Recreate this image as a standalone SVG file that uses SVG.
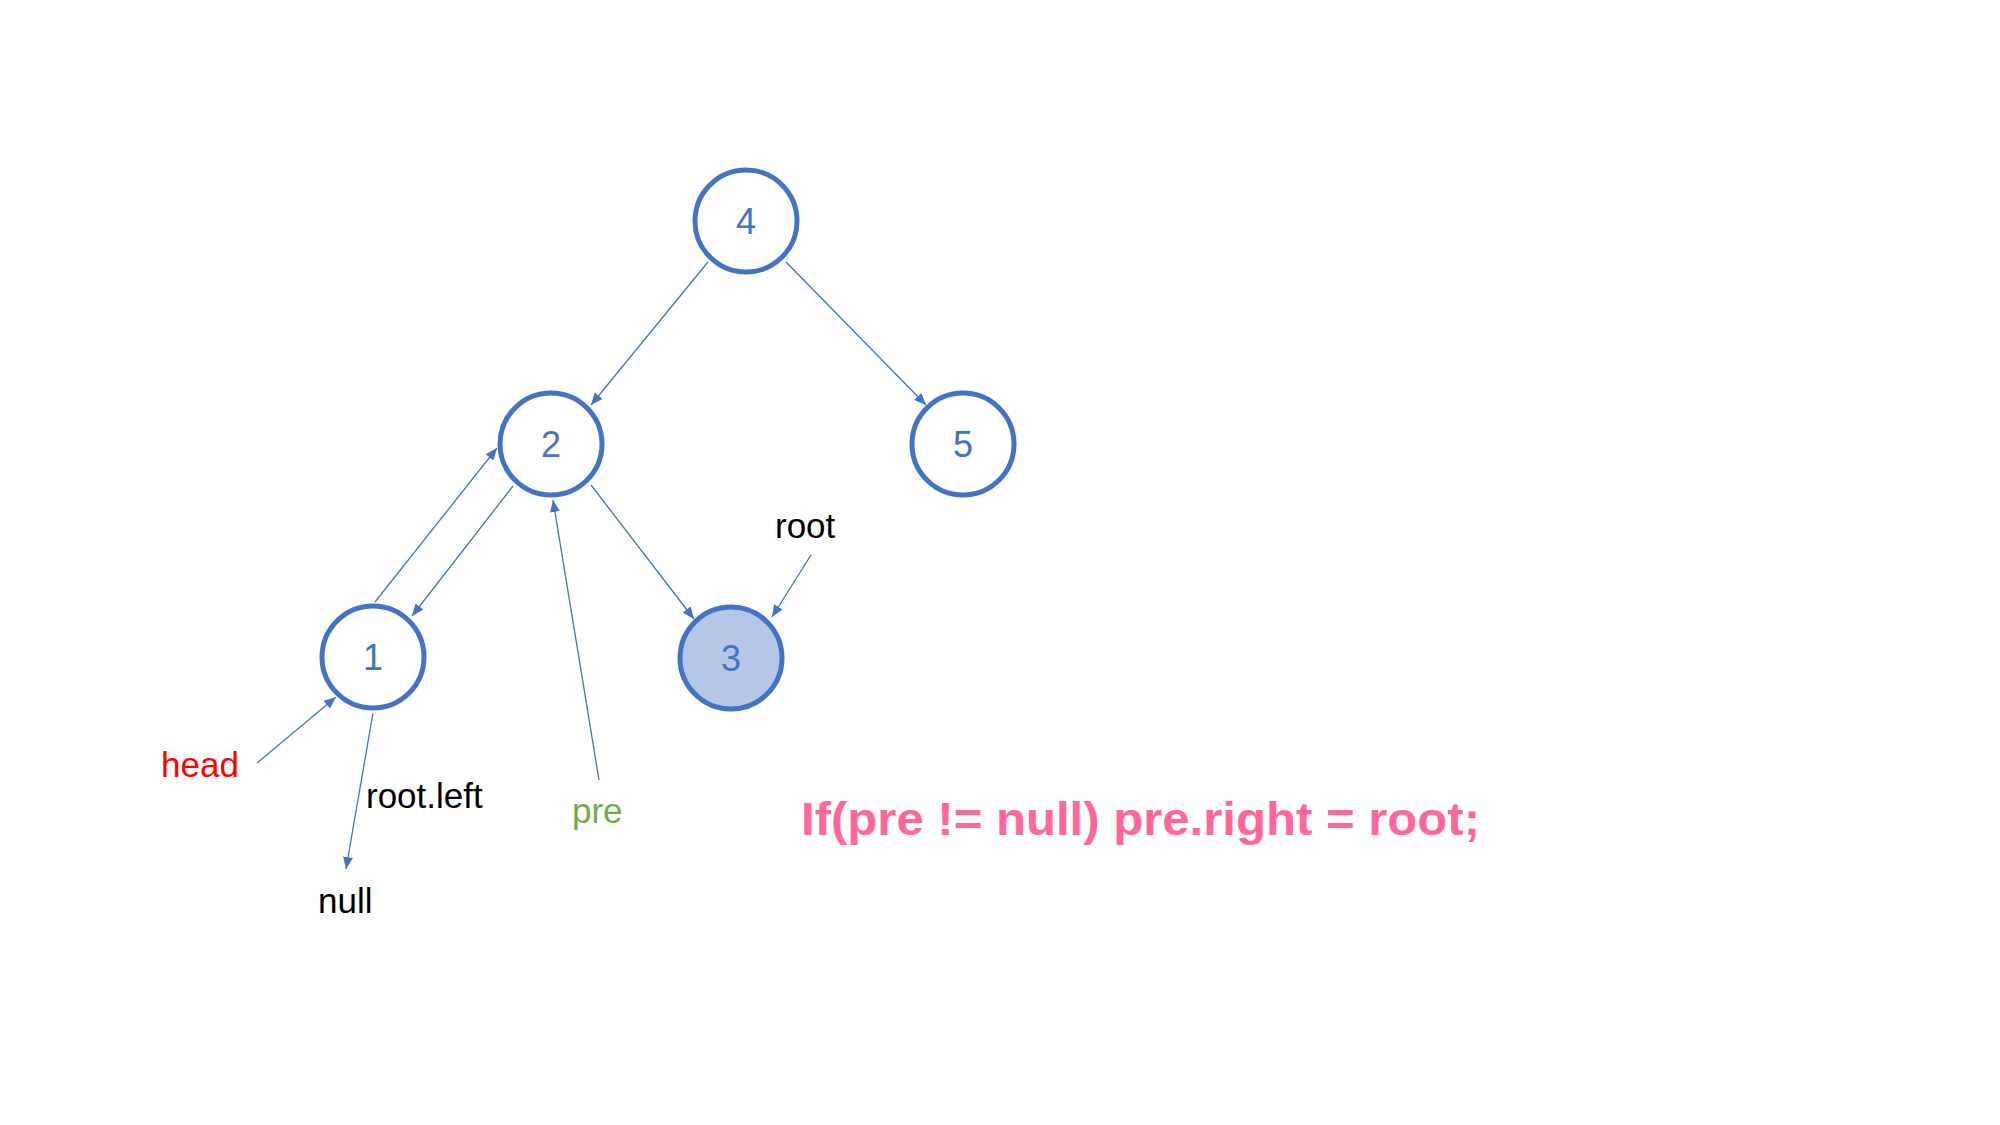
<svg xmlns="http://www.w3.org/2000/svg" width="2000" height="1125" viewBox="0 0 2000 1125">
<style>
.node{fill:#FFFFFF;stroke:#4472C4;stroke-width:5}
.sel{fill:#B4C7E7}
.num{font-family:"Liberation Sans","Noto Sans",sans-serif;font-size:36px;fill:#4472C4;text-anchor:middle}
.lbl{font-family:"Liberation Sans","Noto Sans",sans-serif;font-size:35px;fill:#000000}
.edge{stroke:#4472C4;stroke-width:1.3;fill:none;marker-end:url(#arr)}
.code{font-family:"Liberation Sans","Noto Sans",sans-serif;font-size:46px;font-weight:bold;fill:#FF6699}
</style>
<defs>
<marker id="arr" markerUnits="userSpaceOnUse" markerWidth="12" markerHeight="10" refX="12" refY="5" orient="auto">
<path d="M0,0 L12,5 L0,10 z" fill="#4472C4"/>
</marker>
</defs>
<rect width="2000" height="1125" fill="#FFFFFF"/>
<g id="connectors">
<line class="edge" x1="708" y1="262" x2="591" y2="405"/>
<line class="edge" x1="786" y1="262" x2="926" y2="405"/>
<line class="edge" x1="375" y1="602" x2="497" y2="448"/>
<line class="edge" x1="513" y1="486" x2="412" y2="616"/>
<line class="edge" x1="591" y1="485" x2="694" y2="619"/>
<line class="edge" x1="599" y1="780" x2="553" y2="500"/>
<line class="edge" x1="811" y1="555" x2="772" y2="617"/>
<line class="edge" x1="257" y1="763" x2="336" y2="697"/>
<line class="edge" x1="373" y1="713" x2="346" y2="869"/>
</g>
<g id="node4"><circle class="node" cx="746" cy="221" r="51"/><text class="num" x="746" y="234">4</text></g>
<g id="node2"><circle class="node" cx="551" cy="444" r="51"/><text class="num" x="551" y="457">2</text></g>
<g id="node5"><circle class="node" cx="963" cy="444" r="51"/><text class="num" x="963" y="457">5</text></g>
<g id="node1"><circle class="node" cx="373" cy="657" r="51"/><text class="num" x="373" y="670">1</text></g>
<g id="node3"><circle class="node sel" cx="731" cy="658" r="51"/><text class="num" x="731" y="671">3</text></g>
<g id="labels">
<text class="lbl" x="775" y="538">root</text>
<text class="lbl" x="161" y="777" style="fill:#FF0000">head</text>
<text class="lbl" x="366" y="808">root.left</text>
<text class="lbl" x="318" y="913">null</text>
<text class="lbl" x="572" y="823" style="fill:#70AD47">pre</text>
<text class="code" x="801" y="835" textLength="679" lengthAdjust="spacingAndGlyphs">If(pre != null) pre.right = root;</text>
</g>
</svg>
